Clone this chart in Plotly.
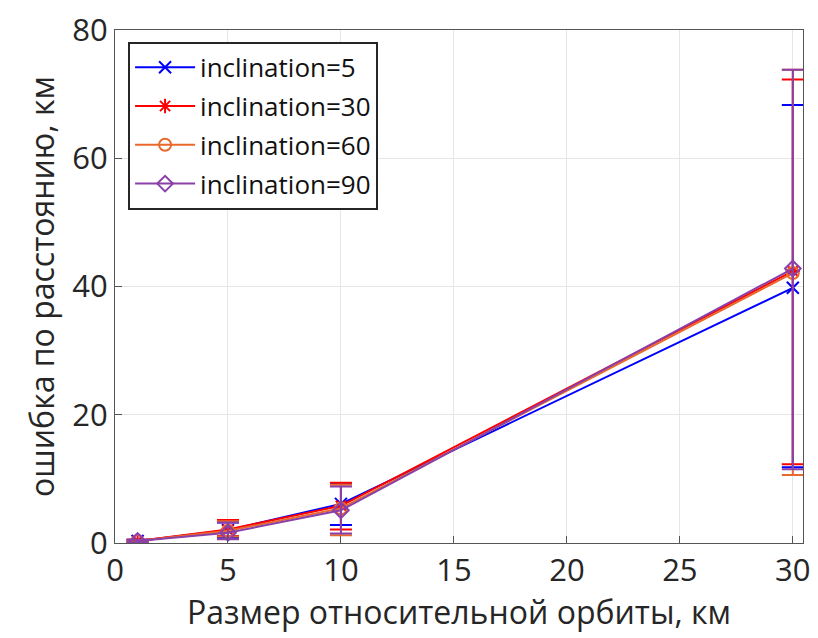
import plotly.graph_objects as go

x_vals = [1, 5, 10, 30]

names = ["inclination=5", "inclination=30", "inclination=60", "inclination=90"]
y_blue = [0.3, 2.0, 6.1, 39.8]
up_blue = [0.5, 3.2, 9.2, 68.3]
lo_blue = [0.1, 0.8, 2.8, 11.8]
y_red = [0.3, 2.1, 5.8, 42.4]
up_red = [0.5, 3.6, 9.4, 72.3]
lo_red = [0.1, 1.1, 2.1, 12.3]
y_orange = [0.3, 1.9, 5.4, 42.1]
up_orange = [0.5, 3.4, 9.1, 73.8]
lo_orange = [0.1, 1.0, 1.2, 10.6]
y_purple = [0.3, 1.6, 5.1, 42.8]
up_purple = [0.5, 3.2, 8.8, 73.8]
lo_purple = [0.1, 0.6, 1.5, 11.5]

x_ticks = [0, 5, 10, 15, 20, 25, 30]
y_ticks = [0, 20, 40, 60, 80]

series = [
    (names[0], y_blue, up_blue, lo_blue, "#0000FF", "x-thin-open"),
    (names[1], y_red, up_red, lo_red, "#FF0000", "asterisk-open"),
    (names[2], y_orange, up_orange, lo_orange, "#E9692C", "circle-open"),
    (names[3], y_purple, up_purple, lo_purple, "#8B3FA8", "diamond-open"),
]

fig = go.Figure()
for i, (nm, ys, ups, los, col, sym) in enumerate(series):
    fig.add_trace(go.Scatter(
        x=x_vals, y=ys, name=nm, mode="lines+markers",
        legendgroup=str(i),
        line=dict(color=col, width=2),
        marker=dict(symbol=sym, size=12, color=col, line=dict(color=col, width=2)),
        error_y=dict(type="data", symmetric=False,
                     array=[u - y for u, y in zip(ups, ys)],
                     arrayminus=[y - l for l, y in zip(los, ys)],
                     color=col, thickness=2, width=11),
    ))

axis_common = dict(
    showline=True, mirror=True, linecolor="#555555", linewidth=1,
    ticks="inside", ticklen=7, tickcolor="#555555",
    showgrid=True, gridcolor="#E6E6E6", gridwidth=1, zeroline=False,
    tickfont=dict(family="Open Sans", size=31, color="#262626"),
)

fig.update_layout(
    width=818, height=638,
    margin=dict(l=115, r=8, t=23, b=95),
    paper_bgcolor="white", plot_bgcolor="white",
    font=dict(family="Open Sans", color="#262626"),
    xaxis=dict(range=[0, 30.45], tickvals=x_ticks,
               title=dict(text="Размер относительной орбиты, км",
                          font=dict(family="Open Sans", size=32, color="#262626"), standoff=9),
               **axis_common),
    yaxis=dict(range=[0, 80], tickvals=y_ticks,
               title=dict(text="ошибка по расстоянию, км",
                          font=dict(family="Open Sans", size=32, color="#262626"), standoff=8),
               **axis_common),
    legend=dict(x=0.019, y=0.977, xanchor="left", yanchor="top",
                bgcolor="white", bordercolor="#262626", borderwidth=2,
                font=dict(family="Open Sans", size=26, color="#111111"),
                traceorder="grouped", tracegroupgap=2, itemwidth=60),
    showlegend=True,
)

fig.write_html("out.html")
